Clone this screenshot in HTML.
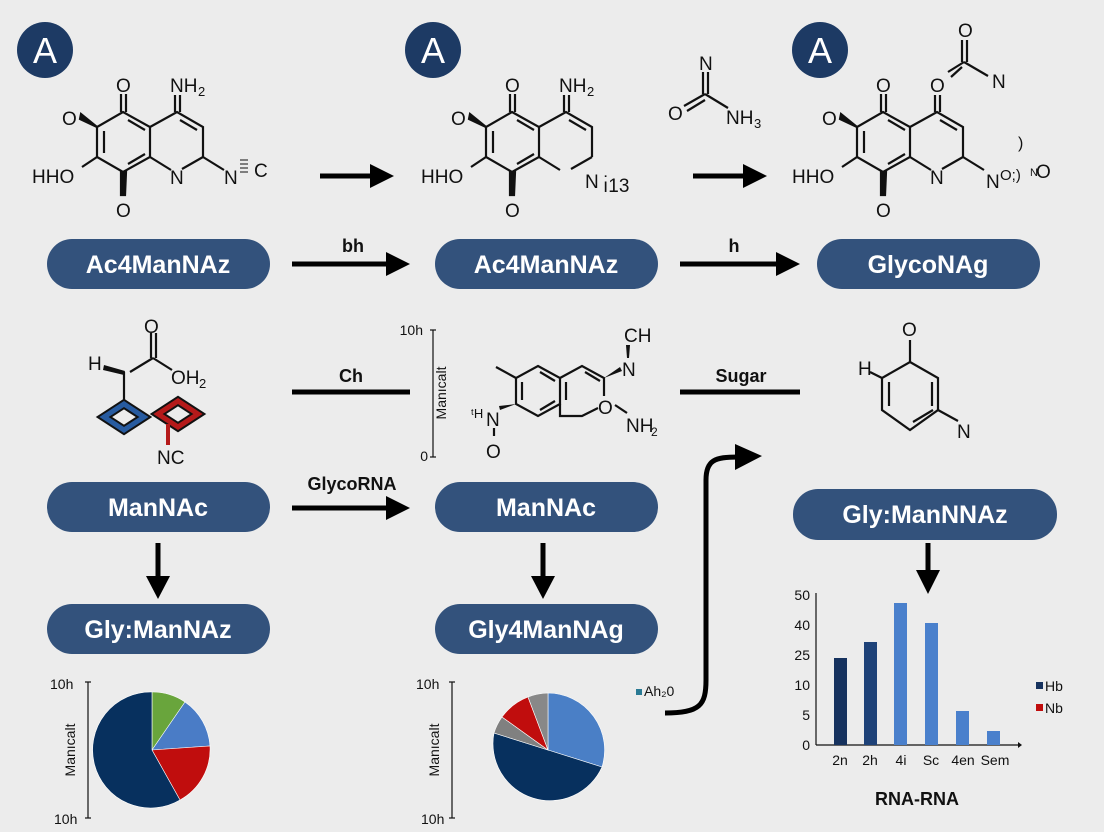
<!DOCTYPE html>
<html><head><meta charset="utf-8"><style>
html,body{margin:0;padding:0;background:#ececec;}
svg{display:block;}
.m{font-family:"Liberation Sans",sans-serif;font-size:19px;fill:#111;}
.p{font-family:"Liberation Sans",sans-serif;font-weight:bold;font-size:25px;fill:#fff;text-anchor:middle;}
.l{font-family:"Liberation Sans",sans-serif;font-weight:bold;font-size:18px;fill:#111;text-anchor:middle;}
.s{font-family:"Liberation Sans",sans-serif;font-size:14px;fill:#111;}
</style></head><body>
<svg width="1104" height="832" viewBox="0 0 1104 832" xmlns="http://www.w3.org/2000/svg">
<defs>
<g id="mol" stroke="#111" stroke-width="2.2" fill="none">
<polygon points="123,112 150,127 150,157 123,172 97,157 97,127"/>
<line x1="104" y1="131" x2="104" y2="153"/><line x1="128" y1="120" x2="145" y2="130"/><line x1="128" y1="164" x2="145" y2="154"/>
<polyline points="150,127 177,112 203,127 203,157"/>
<polyline points="150,157 171,170"/><line x1="182" y1="169" x2="203" y2="157"/>
<line x1="180" y1="120" x2="197" y2="130"/>
<line x1="121" y1="112" x2="121" y2="94"/><line x1="126" y1="112" x2="126" y2="94"/>
<line x1="175" y1="112" x2="175" y2="95"/><line x1="180" y1="112" x2="180" y2="95"/>
<line x1="97" y1="157" x2="82" y2="167"/>
<polygon points="97,127 80,119 81,114" fill="#111"/>
<polygon points="121,172 126,172 125,195 121,195" fill="#111"/>
</g>
</defs>
<rect width="1104" height="832" fill="#ececec"/>

<g font-family="Liberation Sans,sans-serif" font-size="36" fill="#fff" text-anchor="middle">
<circle cx="45" cy="50" r="28" fill="#1d3a64"/><text x="45" y="63">A</text>
<circle cx="433" cy="50" r="28" fill="#1d3a64"/><text x="433" y="63">A</text>
<circle cx="820" cy="50" r="28" fill="#1d3a64"/><text x="820" y="63">A</text>
</g>

<!-- molecule 1 -->
<use href="#mol"/>
<g class="m"><text x="116" y="92">O</text><text x="170" y="92">NH</text><text x="198" y="96" font-size="13">2</text>
<text x="62" y="125">O</text><text x="32" y="183">HHO</text><text x="116" y="217">O</text><text x="170" y="184">N</text>
<text x="224" y="184">N</text><text x="254" y="177">C</text></g>
<line x1="203" y1="157" x2="224" y2="170" stroke="#111" stroke-width="2.2"/>
<g stroke="#111" stroke-width="1"><line x1="240" y1="164" x2="248" y2="164"/><line x1="240" y1="168" x2="248" y2="168"/><line x1="240" y1="160" x2="248" y2="160"/><line x1="240" y1="172" x2="248" y2="172"/></g>

<!-- molecule 2 -->
<use href="#mol" x="389"/>
<g class="m"><text x="505" y="92">O</text><text x="559" y="92">NH</text><text x="587" y="96" font-size="13">2</text>
<text x="451" y="125">O</text><text x="421" y="183">HHO</text><text x="505" y="217">O</text><text x="585" y="188">N</text><text x="603" y="192">ı̇13</text></g>
<g stroke="#111" stroke-width="2.2" fill="none"><line x1="703" y1="72" x2="703" y2="94"/><line x1="708" y1="72" x2="708" y2="94"/><line x1="705" y1="94" x2="684" y2="106"/><line x1="705" y1="100" x2="687" y2="111"/><line x1="705" y1="94" x2="728" y2="108"/></g>
<g class="m"><text x="699" y="70">N</text><text x="668" y="120">O</text><text x="726" y="124">NH</text><text x="754" y="128" font-size="13">3</text></g>

<!-- molecule 3 -->
<use href="#mol" x="760"/>
<g class="m"><text x="876" y="92">O</text><text x="930" y="92">O</text>
<text x="822" y="125">O</text><text x="792" y="183">HHO</text><text x="876" y="217">O</text><text x="930" y="184">N</text>
<text x="986" y="188">N</text><text x="1000" y="180" font-size="15">O;)</text><text x="1030" y="176" font-size="11">N</text><text x="1036" y="178">O</text><text x="1018" y="148" font-size="16">)</text>
<text x="958" y="37">O</text><text x="992" y="88">N</text></g>
<g stroke="#111" stroke-width="2.2"><line x1="962" y1="40" x2="962" y2="62"/><line x1="967" y1="40" x2="967" y2="62"/><line x1="964" y1="62" x2="988" y2="76"/><line x1="964" y1="62" x2="948" y2="72"/><line x1="962" y1="67" x2="951" y2="77"/>
<line x1="963" y1="157" x2="984" y2="170"/></g>

<g stroke="#000" stroke-width="5" fill="none">
<line x1="320" y1="176" x2="372" y2="176"/><line x1="693" y1="176" x2="745" y2="176"/>
<line x1="292" y1="264" x2="388" y2="264"/><line x1="680" y1="264" x2="778" y2="264"/>
<line x1="292" y1="392" x2="410" y2="392"/><line x1="680" y1="392" x2="800" y2="392"/>
<line x1="292" y1="508" x2="388" y2="508"/>
<line x1="158" y1="543" x2="158" y2="578"/><line x1="543" y1="543" x2="543" y2="578"/><line x1="928" y1="543" x2="928" y2="572"/>
<path d="M665,713 C700,713 706,705 706,680 L706,480 C706,460 715,457 738,457"/>
</g>
<g fill="#000">
<polygon points="370,164 394,176 370,188"/><polygon points="743,164 767,176 743,188"/>
<polygon points="386,252 410,264 386,276"/><polygon points="776,252 800,264 776,276"/>
<polygon points="386,496 410,508 386,520"/>
<polygon points="146,576 158,599 170,576"/><polygon points="531,576 543,599 555,576"/><polygon points="916,570 928,594 940,570"/>
<polygon points="735,444 762,456 735,470"/>
</g>
<text class="l" x="353" y="252">bh</text><text class="l" x="734" y="252">h</text>
<text class="l" x="351" y="382">Ch</text><text class="l" x="741" y="382">Sugar</text>
<text class="l" x="352" y="490">GlycoRNA</text>

<g fill="#33527c">
<rect x="47" y="239" width="223" height="50" rx="25"/><rect x="435" y="239" width="223" height="50" rx="25"/><rect x="817" y="239" width="223" height="50" rx="25"/>
<rect x="47" y="482" width="223" height="50" rx="25"/><rect x="435" y="482" width="223" height="50" rx="25"/><rect x="793" y="489" width="264" height="51" rx="25"/>
<rect x="47" y="604" width="223" height="50" rx="25"/><rect x="435" y="604" width="223" height="50" rx="25"/>
</g>
<text class="p" x="158" y="273">Ac4ManNAz</text><text class="p" x="546" y="273">Ac4ManNAz</text><text class="p" x="928" y="273">GlycoNAg</text>
<text class="p" x="158" y="516">ManNAc</text><text class="p" x="546" y="516">ManNAc</text><text class="p" x="925" y="523">Gly:ManNNAz</text>
<text class="p" x="158" y="638">Gly:ManNAz</text><text class="p" x="546" y="638">Gly4ManNAg</text>

<g stroke="#111" stroke-width="2.2" fill="none">
<line x1="130" y1="372" x2="153" y2="358"/><line x1="151" y1="358" x2="151" y2="333"/><line x1="156" y1="358" x2="156" y2="333"/><line x1="153" y1="358" x2="172" y2="370"/><line x1="124" y1="372" x2="124" y2="400"/>
</g>
<polygon points="104,365 125,371 124,375 103,370" fill="#111"/>
<polygon points="104,417 124,404 144,417 124,430" fill="none" stroke="#111" stroke-width="9"/>
<polygon points="104,417 124,404 144,417 124,430" fill="none" stroke="#275ba0" stroke-width="5"/>
<polygon points="158,414 178,401 198,414 178,427" fill="none" stroke="#111" stroke-width="9"/>
<polygon points="158,414 178,401 198,414 178,427" fill="none" stroke="#b51a1a" stroke-width="5"/>
<line x1="168" y1="424" x2="168" y2="445" stroke="#b51a1a" stroke-width="4"/>
<g class="m"><text x="144" y="333">O</text><text x="88" y="370">H</text><text x="171" y="384">OH</text><text x="199" y="388" font-size="13">2</text><text x="157" y="464">NC</text></g>

<g stroke="#111" stroke-width="1.2"><line x1="433" y1="330" x2="433" y2="457"/><line x1="430" y1="330" x2="436" y2="330"/><line x1="430" y1="457" x2="436" y2="457"/></g>
<text class="s" x="423" y="335" text-anchor="end" font-size="12">10h</text><text class="s" x="428" y="461" text-anchor="end" font-size="12">0</text>
<text class="s" font-size="12" transform="translate(446,393) rotate(-90)" text-anchor="middle">Manıcalt</text>

<g stroke="#111" stroke-width="2.2" fill="none">
<polygon points="538,366 560,378 560,404 538,416 516,404 516,378"/>
<line x1="522" y1="382" x2="522" y2="400"/><line x1="540" y1="372" x2="555" y2="381"/><line x1="540" y1="410" x2="555" y2="401"/>
<polyline points="560,378 582,366 604,378 604,396"/><polyline points="560,404 560,416 582,416 598,408"/>
<line x1="566" y1="382" x2="566" y2="400"/><line x1="585" y1="372" x2="600" y2="381"/>
<line x1="516" y1="378" x2="496" y2="367"/><line x1="494" y1="428" x2="494" y2="436"/>
<line x1="615" y1="405" x2="627" y2="413"/>
</g>
<polygon points="516,404 500,410 499,406" fill="#111"/>
<polygon points="604,378 620,367 622,371" fill="#111"/>
<polygon points="626,345 630,345 629,358 627,358" fill="#111"/>
<g class="m" font-size="17"><text x="486" y="426">N</text><text x="471" y="418" font-size="13">ᵗH</text><text x="486" y="458">O</text>
<text x="598" y="414">O</text><text x="622" y="376">N</text><text x="624" y="342">CH</text><text x="626" y="432">NH</text><text x="651" y="436" font-size="12">2</text></g>

<g stroke="#111" stroke-width="2.2" fill="none">
<polygon points="910,362 938,378 938,410 910,430 882,410 882,378"/>
<line x1="889" y1="382" x2="889" y2="406"/><line x1="913" y1="422" x2="933" y2="410"/><line x1="932" y1="382" x2="932" y2="406"/>
<line x1="910" y1="362" x2="910" y2="340"/><line x1="882" y1="378" x2="870" y2="372"/><line x1="938" y1="410" x2="958" y2="421"/>
</g>
<g class="m"><text x="902" y="336">O</text><text x="858" y="375">H</text><text x="957" y="438">N</text></g>

<g stroke="#111" stroke-width="1.2"><line x1="88" y1="682" x2="88" y2="818"/><line x1="85" y1="682" x2="91" y2="682"/><line x1="85" y1="818" x2="91" y2="818"/>
<line x1="452" y1="682" x2="452" y2="818"/><line x1="449" y1="682" x2="455" y2="682"/><line x1="449" y1="818" x2="455" y2="818"/></g>
<g class="s" font-size="13"><text x="50" y="689">10h</text><text x="54" y="824">10h</text><text x="416" y="689">10h</text><text x="421" y="824">10h</text></g>
<text class="s" transform="translate(75,750) rotate(-90)" text-anchor="middle">Manıcalt</text>
<text class="s" transform="translate(439,750) rotate(-90)" text-anchor="middle">Manıcalt</text>

<g stroke="#fff" stroke-width="0.6">
<path d="M152,750 L152,692 A58,58 0 0,1 185,702 Z" fill="#69a53c"/>
<path d="M152,750 L185,702 A58,58 0 0,1 210,746 Z" fill="#4a7cc6"/>
<path d="M152,750 L210,746 A58,58 0 0,1 180,800 Z" fill="#c00d0d"/>
<path d="M152,750 L180,800 A58,58 0 1,1 152,692 Z" fill="#07305e"/>
<path d="M548,750 L548,693 A57,57 0 0,1 602,767 Z" fill="#4a7fc6"/>
<path d="M548,750 L602,767 A57,57 0 0,1 494,733 Z" fill="#07305e"/>
<path d="M548,750 L494,733 A57,57 0 0,1 502,717 Z" fill="#808080"/>
<path d="M548,750 L502,717 A57,57 0 0,1 528,697 Z" fill="#c00d0d"/>
<path d="M548,750 L528,697 A57,57 0 0,1 548,693 Z" fill="#888"/>
</g>
<rect x="636" y="689" width="6" height="6" fill="#2a7a94"/><text class="s" x="644" y="696" font-size="13">Ah₂0</text>

<g stroke="#111" stroke-width="1.2"><line x1="816" y1="593" x2="816" y2="745"/><line x1="816" y1="745" x2="1018" y2="745"/></g>
<polygon points="1018,742 1022,745 1018,748" fill="#111"/>
<g class="s" font-size="15" text-anchor="end"><text x="810" y="600">50</text><text x="810" y="630">40</text><text x="810" y="660">25</text><text x="810" y="690">10</text><text x="810" y="720">5</text><text x="810" y="750">0</text></g>
<rect x="834" y="658" width="13" height="87" fill="#16325e"/>
<rect x="864" y="642" width="13" height="103" fill="#1e4278"/>
<rect x="894" y="603" width="13" height="142" fill="#4a80cc"/>
<rect x="925" y="623" width="13" height="122" fill="#4a80cc"/>
<rect x="956" y="711" width="13" height="34" fill="#4a80cc"/>
<rect x="987" y="731" width="13" height="14" fill="#4a80cc"/>
<g class="s" font-size="15" text-anchor="middle"><text x="840" y="765">2n</text><text x="870" y="765">2h</text><text x="901" y="765">4i</text><text x="931" y="765">Sc</text><text x="963" y="765">4en</text><text x="995" y="765">Sem</text></g>
<text class="l" x="917" y="805" font-size="20">RNA-RNA</text>
<rect x="1036" y="682" width="7" height="7" fill="#16325e"/><text class="s" x="1045" y="691">Hb</text>
<rect x="1036" y="704" width="7" height="7" fill="#c00d0d"/><text class="s" x="1045" y="713">Nb</text>
</svg>
</body></html>
